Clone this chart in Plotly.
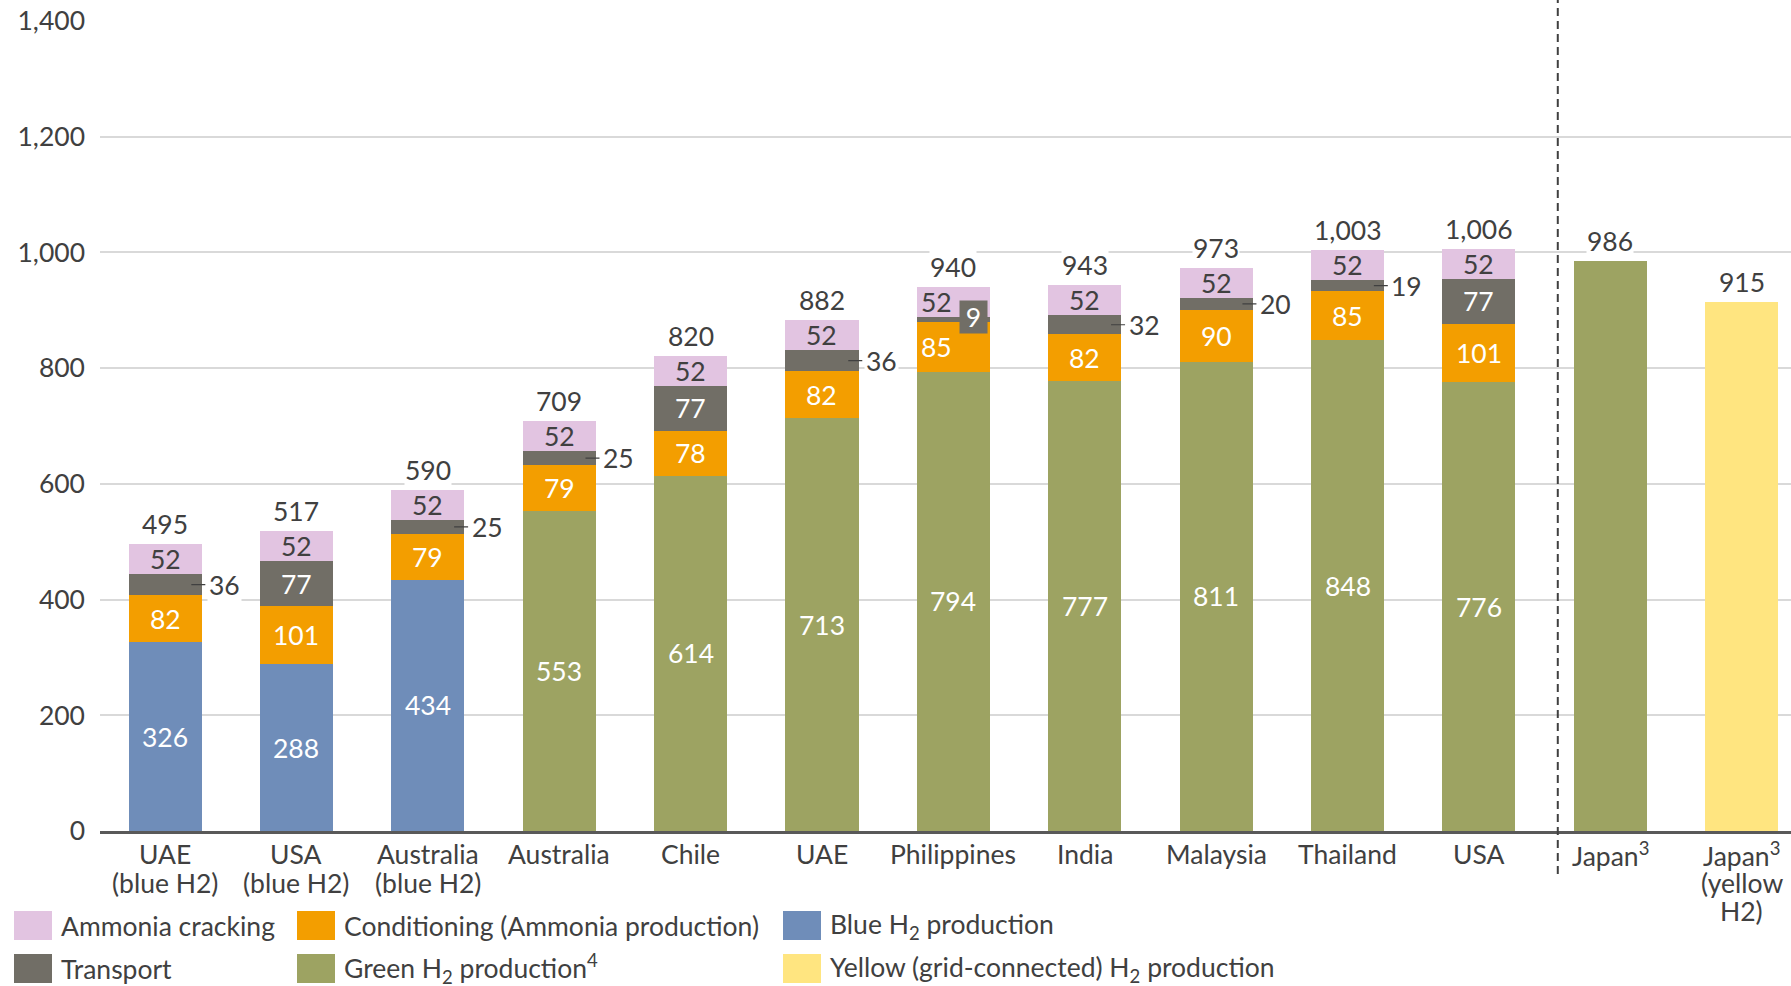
import plotly.graph_objects as go

# Cost build-up of delivered hydrogen (stacked components per route)
categories = ["UAE<br>(blue H2)", "USA<br>(blue H2)", "Australia<br>(blue H2)", "Australia",
              "Chile", "UAE", "Philippines", "India", "Malaysia", "Thailand", "USA",
              "Japan<sup>3</sup>", "Japan<sup>3</sup><br>(yellow<br>H2)"]
blue_h2 = [326, 288, 434, None, None, None, None, None, None, None, None, None, None]
green_h2 = [None, None, None, 553, 614, 713, 794, 777, 811, 848, 776, 986, None]
yellow_h2 = [None, None, None, None, None, None, None, None, None, None, None, None, 915]
conditioning = [82, 101, 79, 79, 78, 82, 85, 82, 90, 85, 101, None, None]
transport = [36, 77, 25, 25, 77, 36, 9, 32, 20, 19, 77, None, None]
cracking = [52, 52, 52, 52, 52, 52, 52, 52, 52, 52, 52, None, None]
totals = [495, 517, 590, 709, 820, 882, 940, 943, 973, 1003, 1006, 986, 915]
y_ticks = [0, 200, 400, 600, 800, 1000, 1200, 1400]

FONT = "Lato"
DARK = "#404040"
FS = 26.5

C_CRACK = "#E2C4E1"
C_COND = "#F39E00"
C_BLUE = "#6F8DB9"
C_TRANS = "#716E66"
C_GREEN = "#9DA362"
C_YELLOW = "#FFE580"

W, H = 1791, 986
ML, MR, MT, MB = 100, 0, 21, 155
XR = [-0.495, 12.375]
BAR_W = 0.556
N_ROUTES = 11  # stacked routes; the two Japan bars are single-component

x = list(range(len(categories)))

# stack order, bottom to top: (name, values, colour, label colour)
stack = [
    ("Blue H2 production", blue_h2, C_BLUE, "white"),
    ("Green H2 production", green_h2, C_GREEN, "white"),
    ("Yellow H2 production", yellow_h2, C_YELLOW, "white"),
    ("Conditioning", conditioning, C_COND, "white"),
    ("Transport", transport, C_TRANS, "white"),
    ("Ammonia cracking", cracking, C_CRACK, DARK),
]

fig = go.Figure()
for name, vals, col, _ in stack:
    fig.add_trace(go.Bar(x=x, y=vals, name=name, marker=dict(color=col, line=dict(width=0)),
                         width=BAR_W, showlegend=False, hoverinfo="skip"))

annotations = []
base = [0.0] * len(x)
for name, vals, col, lab_col in stack:
    for i, v in enumerate(vals):
        if v is None:
            continue
        mid = base[i] + v / 2
        if i >= N_ROUTES:
            pass  # only the total is shown for these bars
        elif name in ("Ammonia cracking", "Conditioning") and i == 6:
            # shifted left to leave room for the small transport tag
            annotations.append(dict(x=i - 0.13, y=mid, text=str(v), showarrow=False,
                                    font=dict(family=FONT, size=FS, color=lab_col)))
        elif name == "Transport" and v < 50:
            if v < 15:
                # tiny segment: tag in a grey box at the bar's right edge
                annotations.append(dict(x=i + 0.15, y=base[i] + v, text=str(v), showarrow=False,
                                        bgcolor=C_TRANS, width=25, height=30,
                                        font=dict(family=FONT, size=FS, color="white")))
            else:
                annotations.append(dict(x=i + 0.2, y=mid, text=str(v), showarrow=True,
                                        ax=33, ay=0, arrowhead=0, arrowwidth=1.2,
                                        arrowcolor=DARK, standoff=0, startstandoff=2,
                                        bgcolor="white", borderpad=1,
                                        font=dict(family=FONT, size=FS, color=DARK)))
        else:
            annotations.append(dict(x=i, y=mid, text=str(v), showarrow=False,
                                    font=dict(family=FONT, size=FS, color=lab_col)))
        base[i] += v

# totals above each bar
for i, t in enumerate(totals):
    annotations.append(dict(x=i, y=base[i], text=f"{t:,}", showarrow=False, yanchor="bottom",
                            yshift=3, bgcolor="white", borderpad=0,
                            font=dict(family=FONT, size=FS, color=DARK)))

PW = W - ML - MR
PH = H - MT - MB


def px_x(p):
    return (p - ML) / PW


def px_y(p):
    return (H - MB - p) / PH


# category labels, one annotation per line for tighter line spacing
for i, cat in enumerate(categories):
    for k, line in enumerate(cat.split("<br>")):
        annotations.append(dict(x=i, xref="x", yref="paper", y=px_y(854 + 28.5 * k),
                                yanchor="middle", text=line, showarrow=False,
                                font=dict(family=FONT, size=FS, color=DARK)))

shapes = []
# separator between export routes and domestic Japan production
sep_x = (10.6 - XR[0]) / (XR[1] - XR[0])
shapes.append(dict(type="line", xref="paper", yref="paper", x0=sep_x, x1=sep_x,
                   y0=px_y(874), y1=px_y(0), line=dict(color=DARK, width=2, dash="8px,5px")))

# legend
legend_items = [
    (14, 911, C_CRACK, "Ammonia cracking"),
    (297, 911, C_COND, "Conditioning (Ammonia production)"),
    (783, 911, C_BLUE, "Blue H<sub>2</sub> production"),
    (14, 954, C_TRANS, "Transport"),
    (297, 954, C_GREEN, "Green H<sub>2</sub> production<sup>4</sup>"),
    (783, 954, C_YELLOW, "Yellow (grid-connected) H<sub>2</sub> production"),
]
for lx, ly, col, lab in legend_items:
    shapes.append(dict(type="rect", xref="paper", yref="paper", x0=px_x(lx), x1=px_x(lx + 38),
                       y0=px_y(ly + 29), y1=px_y(ly), line=dict(width=0), fillcolor=col))
    annotations.append(dict(xref="paper", yref="paper", x=px_x(lx + 45), y=px_y(ly + 14.5),
                            xanchor="left", yanchor="middle", text=lab, showarrow=False,
                            font=dict(family=FONT, size=FS, color=DARK)))

fig.update_layout(
    width=W, height=H,
    margin=dict(l=ML, r=MR, t=MT, b=MB, pad=0),
    barmode="stack",
    plot_bgcolor="white", paper_bgcolor="white",
    font=dict(family=FONT, size=FS, color=DARK),
    annotations=annotations,
    shapes=shapes,
    xaxis=dict(range=XR, tickvals=x, showticklabels=False, showgrid=False, zeroline=False,
               showline=True, linecolor="#595959", linewidth=2.5, ticks="", fixedrange=True),
    yaxis=dict(range=[0, 1400], tickvals=y_ticks, tickformat=",", showgrid=True,
               gridcolor="#D9D9D9", gridwidth=1.5, zeroline=False, showline=False,
               ticks="", ticklabelstandoff=14,
               tickfont=dict(family=FONT, size=FS, color=DARK), fixedrange=True),
)

fig.write_html("out.html")
